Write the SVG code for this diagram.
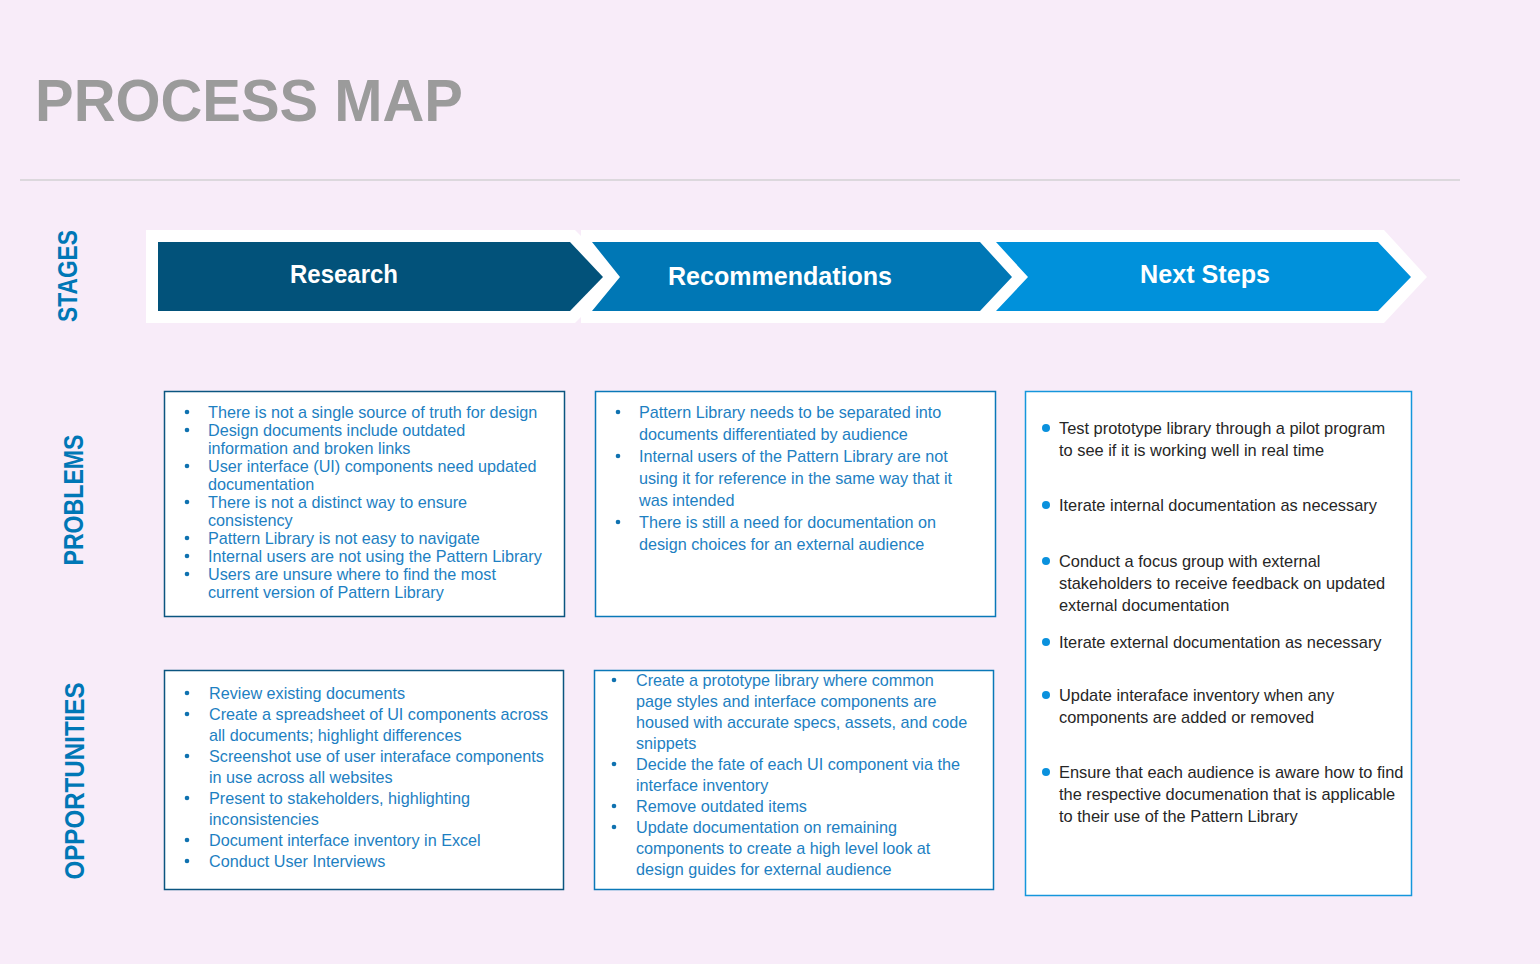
<svg xmlns="http://www.w3.org/2000/svg" width="1540" height="964" viewBox="0 0 1540 964">
<style>
  .bg { fill: #f8ecf9; }
  .title { font-family: "Liberation Sans", Arial, sans-serif; font-weight: bold; font-size: 60px; fill: #9b9b9b; }
  .rowlabel { font-family: "Liberation Sans", Arial, sans-serif; font-weight: bold; font-size: 27px; fill: #0077b6; }
  .stagelabel { font-family: "Liberation Sans", Arial, sans-serif; font-weight: bold; font-size: 25px; fill: #ffffff; text-anchor: middle; }
  .box { fill: #ffffff; stroke-width: 1.5; }
  .b1 { stroke: #0b5580; }
  .b2 { stroke: #0a78b8; }
  .b3 { stroke: #1596dc; }
  .t { font-family: "Liberation Sans", Arial, sans-serif; font-size: 16.2px; fill: #1d80c2; }
  .tn { font-family: "Liberation Sans", Arial, sans-serif; font-size: 16.4px; fill: #262626; }
  .dot { fill: #0f72b0; }
  .dotn { fill: #0a91dd; }
</style>
<rect class="bg" x="0" y="0" width="1540" height="964"/>

<g id="header">
  <text class="title" x="35" y="121" textLength="428" lengthAdjust="spacingAndGlyphs">PROCESS MAP</text>
  <line x1="20" y1="180" x2="1460" y2="180" stroke="#dcd8dd" stroke-width="2"/>
</g>

<g id="row-labels">
  <text class="rowlabel" transform="translate(77,276) rotate(-90)" text-anchor="middle" textLength="92" lengthAdjust="spacingAndGlyphs">STAGES</text>
  <text class="rowlabel" transform="translate(83,500) rotate(-90)" text-anchor="middle" textLength="131" lengthAdjust="spacingAndGlyphs">PROBLEMS</text>
  <text class="rowlabel" transform="translate(84,781) rotate(-90)" text-anchor="middle" textLength="197" lengthAdjust="spacingAndGlyphs">OPPORTUNITIES</text>
</g>

<g id="stages-backing">
  <polygon fill="#ffffff" points="146,230 1384,230 1427,277 1384,323 146,323"/>
  <polygon class="bg" points="575,230 581,230 581,236"/>
  <polygon class="bg" points="575,323 581,323 581,317"/>
</g>

<g id="stage-research">
  <polygon fill="#02527a" points="158,242 570,242 603,277 570,311 158,311"/>
  <text class="stagelabel" x="344" y="283" textLength="108" lengthAdjust="spacingAndGlyphs">Research</text>
</g>
<g id="stage-recommendations">
  <polygon fill="#0077b5" points="592,242 980,242 1012,277 980,311 592,311 620,277"/>
  <text class="stagelabel" x="780" y="285" textLength="224" lengthAdjust="spacingAndGlyphs">Recommendations</text>
</g>
<g id="stage-next-steps">
  <polygon fill="#0091db" points="996,242 1378,242 1411,277 1378,311 996,311 1028,277"/>
  <text class="stagelabel" x="1205" y="283" textLength="130" lengthAdjust="spacingAndGlyphs">Next Steps</text>
</g>

<g id="connectors"></g>

<g id="box-problems-research">
  <rect class="box b1" x="164.5" y="391.5" width="400" height="225"/>
  <g class="dot">
    <circle cx="187" cy="412" r="2.3"/><circle cx="187" cy="430" r="2.3"/><circle cx="187" cy="466" r="2.3"/>
    <circle cx="187" cy="502" r="2.3"/><circle cx="187" cy="538" r="2.3"/><circle cx="187" cy="556" r="2.3"/>
    <circle cx="187" cy="574" r="2.3"/>
  </g>
  <text class="t">
    <tspan x="208" y="418">There is not a single source of truth for design</tspan>
    <tspan x="208" y="436">Design documents include outdated</tspan>
    <tspan x="208" y="454">information and broken links</tspan>
    <tspan x="208" y="472">User interface (UI) components need updated</tspan>
    <tspan x="208" y="490">documentation</tspan>
    <tspan x="208" y="508">There is not a distinct way to ensure</tspan>
    <tspan x="208" y="526">consistency</tspan>
    <tspan x="208" y="544">Pattern Library is not easy to navigate</tspan>
    <tspan x="208" y="562">Internal users are not using the Pattern Library</tspan>
    <tspan x="208" y="580">Users are unsure where to find the most</tspan>
    <tspan x="208" y="598">current version of Pattern Library</tspan>
  </text>
</g>

<g id="box-problems-recommendations">
  <rect class="box b2" x="595.5" y="391.5" width="400" height="225"/>
  <g class="dot">
    <circle cx="618" cy="412" r="2.3"/><circle cx="618" cy="456" r="2.3"/><circle cx="618" cy="522" r="2.3"/>
  </g>
  <text class="t">
    <tspan x="639" y="418">Pattern Library needs to be separated into</tspan>
    <tspan x="639" y="440">documents differentiated by audience</tspan>
    <tspan x="639" y="462">Internal users of the Pattern Library are not</tspan>
    <tspan x="639" y="484">using it for reference in the same way that it</tspan>
    <tspan x="639" y="506">was intended</tspan>
    <tspan x="639" y="528">There is still a need for documentation on</tspan>
    <tspan x="639" y="550">design choices for an external audience</tspan>
  </text>
</g>

<g id="box-opportunities-research">
  <rect class="box b1" x="164.5" y="670.5" width="399" height="219"/>
  <g class="dot">
    <circle cx="187" cy="693" r="2.3"/><circle cx="187" cy="714" r="2.3"/><circle cx="187" cy="756" r="2.3"/>
    <circle cx="187" cy="798" r="2.3"/><circle cx="187" cy="840" r="2.3"/><circle cx="187" cy="861" r="2.3"/>
  </g>
  <text class="t">
    <tspan x="209" y="699">Review existing documents</tspan>
    <tspan x="209" y="720">Create a spreadsheet of UI components across</tspan>
    <tspan x="209" y="741">all documents; highlight differences</tspan>
    <tspan x="209" y="762">Screenshot use of user interaface components</tspan>
    <tspan x="209" y="783">in use across all websites</tspan>
    <tspan x="209" y="804">Present to stakeholders, highlighting</tspan>
    <tspan x="209" y="825">inconsistencies</tspan>
    <tspan x="209" y="846">Document interface inventory in Excel</tspan>
    <tspan x="209" y="867">Conduct User Interviews</tspan>
  </text>
</g>

<g id="box-opportunities-recommendations">
  <rect class="box b2" x="594.5" y="670.5" width="399" height="219"/>
  <g class="dot">
    <circle cx="614" cy="680" r="2.3"/><circle cx="614" cy="764" r="2.3"/><circle cx="614" cy="806" r="2.3"/>
    <circle cx="614" cy="827" r="2.3"/>
  </g>
  <text class="t">
    <tspan x="636" y="686">Create a prototype library where common</tspan>
    <tspan x="636" y="707">page styles and interface components are</tspan>
    <tspan x="636" y="728">housed with accurate specs, assets, and code</tspan>
    <tspan x="636" y="749">snippets</tspan>
    <tspan x="636" y="770">Decide the fate of each UI component via the</tspan>
    <tspan x="636" y="791">interface inventory</tspan>
    <tspan x="636" y="812">Remove outdated items</tspan>
    <tspan x="636" y="833">Update documentation on remaining</tspan>
    <tspan x="636" y="854">components to create a high level look at</tspan>
    <tspan x="636" y="875">design guides for external audience</tspan>
  </text>
</g>

<g id="box-next-steps">
  <rect class="box b3" x="1025.5" y="391.5" width="386" height="504"/>
  <g class="dotn">
    <circle cx="1046" cy="428" r="4"/><circle cx="1046" cy="505" r="4"/><circle cx="1046" cy="561" r="4"/>
    <circle cx="1046" cy="642" r="4"/><circle cx="1046" cy="695" r="4"/><circle cx="1046" cy="772" r="4"/>
  </g>
  <text class="tn">
    <tspan x="1059" y="434">Test prototype library through a pilot program</tspan>
    <tspan x="1059" y="456">to see if it is working well in real time</tspan>
    <tspan x="1059" y="511">Iterate internal documentation as necessary</tspan>
    <tspan x="1059" y="567">Conduct a focus group with external</tspan>
    <tspan x="1059" y="589">stakeholders to receive feedback on updated</tspan>
    <tspan x="1059" y="611">external documentation</tspan>
    <tspan x="1059" y="648">Iterate external documentation as necessary</tspan>
    <tspan x="1059" y="701">Update interaface inventory when any</tspan>
    <tspan x="1059" y="723">components are added or removed</tspan>
    <tspan x="1059" y="778">Ensure that each audience is aware how to find</tspan>
    <tspan x="1059" y="800">the respective documenation that is applicable</tspan>
    <tspan x="1059" y="822">to their use of the Pattern Library</tspan>
  </text>
</g>
</svg>
